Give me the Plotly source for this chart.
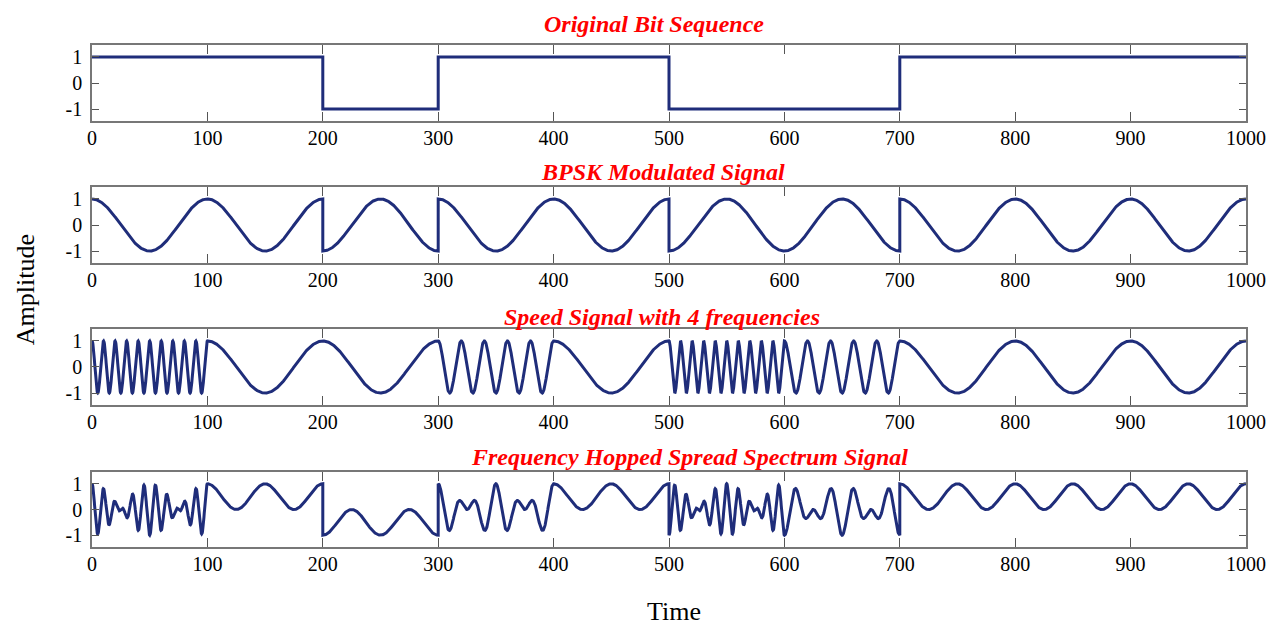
import numpy as np
import plotly.graph_objects as go
from plotly.subplots import make_subplots

# ---- data ----
bit_length = 100
bits = [1, 1, -1, 1, 1, -1, -1, 1, 1, 1]            # original bit per 100-sample slot
carrier_cycles = [1, 1, 1, 1, 1, 1, 1, 1, 1, 1]      # BPSK carrier cycles per slot
hop_cycles = [10, 1, 1, 5, 1, 10, 5, 1, 1, 1]        # speed (hopping) carrier cycles per slot
titles = ["Original Bit Sequence", "BPSK Modulated Signal",
          "Speed Signal with 4 frequencies", "Frequency Hopped Spread Spectrum Signal"]
x_ticks = [0, 100, 200, 300, 400, 500, 600, 700, 800, 900, 1000]
y_ticks = [-1, 0, 1]

# ---- build traces (segment by segment so the jumps are vertical) ----
t_all, bit_all, bpsk_all, speed_all, fh_all = [], [], [], [], []
for k, b in enumerate(bits):
    t = np.linspace(k * bit_length, (k + 1) * bit_length, 401)
    bpsk = b * np.cos(2 * np.pi * carrier_cycles[k] * t / bit_length)
    speed = np.cos(2 * np.pi * hop_cycles[k] * t / bit_length)
    t_all.append(t)
    bit_all.append(np.full_like(t, b, dtype=float))
    bpsk_all.append(bpsk)
    speed_all.append(speed)
    fh_all.append(bpsk * speed)
t_all = np.concatenate(t_all)
series = [np.concatenate(bit_all), np.concatenate(bpsk_all),
          np.concatenate(speed_all), np.concatenate(fh_all)]

line_color = "#1f2d7a"
fig = make_subplots(rows=4, cols=1)
for i, y in enumerate(series):
    fig.add_trace(go.Scatter(x=t_all, y=y, mode="lines",
                             line=dict(color=line_color, width=3),
                             showlegend=False, hoverinfo="skip"), row=i + 1, col=1)

# page offset of 8px (default body margin) compensated in size/margins
domains = [[0.8486, 1.0], [0.5657, 0.7171], [0.2829, 0.4343], [0.0, 0.1494]]
tick_font = dict(family="Liberation Serif, Times New Roman, serif", size=20, color="black")
for i in range(4):
    xa = "xaxis" if i == 0 else f"xaxis{i+1}"
    ya = "yaxis" if i == 0 else f"yaxis{i+1}"
    fig.layout[xa].update(range=[0, 1000], tickvals=x_ticks, ticks="inside", ticklen=9,
                          tickcolor="#555", showline=True, linecolor="#777", linewidth=1.5,
                          mirror="ticks", showgrid=False, zeroline=False, tickfont=tick_font,
                          ticklabelstandoff=-2)
    fig.layout[ya].update(domain=domains[i], range=[-1.46, 1.46], tickvals=y_ticks,
                          ticktext=["-1", "0", "1"], ticks="inside", ticklen=7,
                          tickcolor="#555", showline=True, linecolor="#777", linewidth=1.5,
                          mirror="ticks", showgrid=False, zeroline=False, tickfont=tick_font,
                          ticklabelstandoff=4)

title_font = dict(family="Liberation Serif, Times New Roman, serif", size=24, color="#ff0000")
title_pos = [(656, 24), (665, 172), (664, 317), (692, 457)]
for (px, py), txt in zip(title_pos, titles):
    fig.add_annotation(text=f"<b><i>{txt}</i></b>", xref="paper", yref="paper",
                       x=(px - 92) / (1251 - 92), y=(547 - py) / 502,
                       showarrow=False, font=title_font, xanchor="center", yanchor="middle")

label_font = dict(family="Liberation Serif, Times New Roman, serif", size=26, color="black")
fig.add_annotation(text="Amplitude", xref="paper", yref="paper",
                   x=(25 - 92) / (1251 - 92), y=(547 - 290) / 502, textangle=-90,
                   showarrow=False, font=label_font, xanchor="center", yanchor="middle")
fig.add_annotation(text="Time", xref="paper", yref="paper",
                   x=(677 - 92) / (1251 - 92), y=(547 - 611) / 502,
                   showarrow=False, font=label_font, xanchor="center", yanchor="middle")

fig.update_layout(width=1270, height=618, margin=dict(l=84, r=27, t=37, b=79),
                  paper_bgcolor="white", plot_bgcolor="white")
fig.write_html("out.html")
